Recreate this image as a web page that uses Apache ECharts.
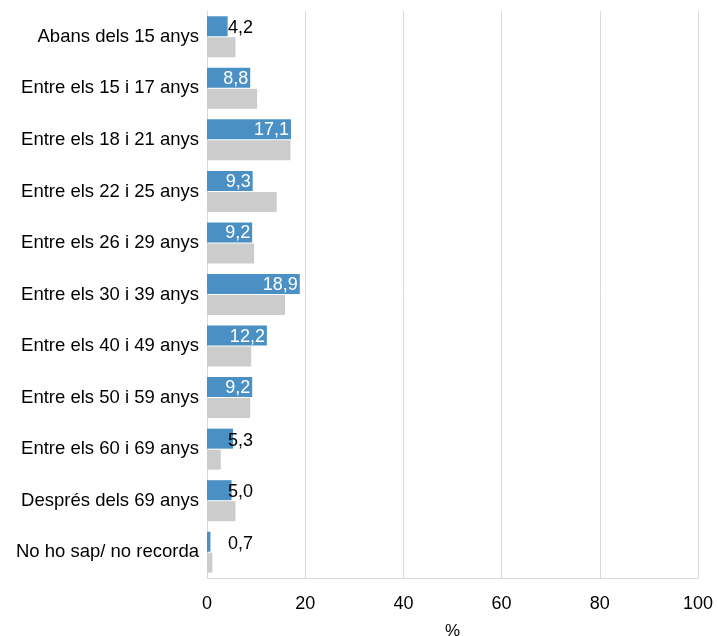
<!DOCTYPE html>
<html><head><meta charset="utf-8">
<script src="https://cdn.jsdelivr.net/npm/echarts@6/dist/echarts.min.js"></script>
<style>html,body{margin:0;padding:0;background:#fff}#c{width:718px;height:636px}</style>
</head><body><div id="c"></div>
<script>
var categories = ["Abans dels 15 anys","Entre els 15 i 17 anys","Entre els 18 i 21 anys","Entre els 22 i 25 anys","Entre els 26 i 29 anys","Entre els 30 i 39 anys","Entre els 40 i 49 anys","Entre els 50 i 59 anys","Entre els 60 i 69 anys","Després dels 69 anys","No ho sap/ no recorda"];
var blueValues = [4.2, 8.8, 17.1, 9.3, 9.2, 18.9, 12.2, 9.2, 5.3, 5.0, 0.7];
var greyValues = [5.8, 10.2, 17.0, 14.2, 9.6, 15.9, 9.0, 8.8, 2.8, 5.8, 1.1];
var xTicks = [0, 20, 40, 60, 80, 100];

var fmt = function(v){ return v.toFixed(1).replace('.', ','); };
var blueData = blueValues.map(function(v){
  var small = v < 7;
  return {
    value: v,
    label: small ? {position: [21, '50%'], verticalAlign: 'middle', align: 'left', color: '#000', offset: [0, 2]} :
                   {position: 'insideRight', color: '#fff', distance: 2, offset: [0, 1]}
  };
});
var chart = echarts.init(document.getElementById('c'));
chart.setOption({
  animation: false,
  grid: {left: 207, right: 20, top: 11, bottom: 58, outerBoundsMode: 'none', containLabel: false},
  xAxis: {
    type: 'value', min: xTicks[0], max: xTicks[xTicks.length-1], interval: 20,
    name: '%', nameLocation: 'middle', nameGap: 45,
    nameTextStyle: {fontFamily: 'Liberation Sans', fontSize: 17, color: '#000'},
    axisLine: {show: true, lineStyle: {color: '#D9D9D9'}},
    axisTick: {show: false},
    axisLabel: {fontFamily: 'Liberation Sans', fontSize: 18, color: '#000', margin: 17},
    splitLine: {lineStyle: {color: '#D9D9D9', width: 1}}
  },
  yAxis: {
    type: 'category', data: categories, inverse: true,
    axisLine: {show: true, lineStyle: {color: '#D9D9D9'}},
    axisTick: {show: false},
    axisLabel: {fontFamily: 'Liberation Sans', fontSize: 18.5, color: '#000', margin: 8}
  },
  series: [
    {type: 'bar', data: blueData, barWidth: 20, barGap: '5%',
     itemStyle: {color: '#4A90C5'},
     label: {show: true, fontFamily: 'Liberation Sans', fontSize: 18, formatter: function(p){ return fmt(p.value); }}},
    {type: 'bar', data: greyValues, barWidth: 20, barGap: '5%',
     itemStyle: {color: '#CCCCCC'}}
  ]
});
</script></body></html>
